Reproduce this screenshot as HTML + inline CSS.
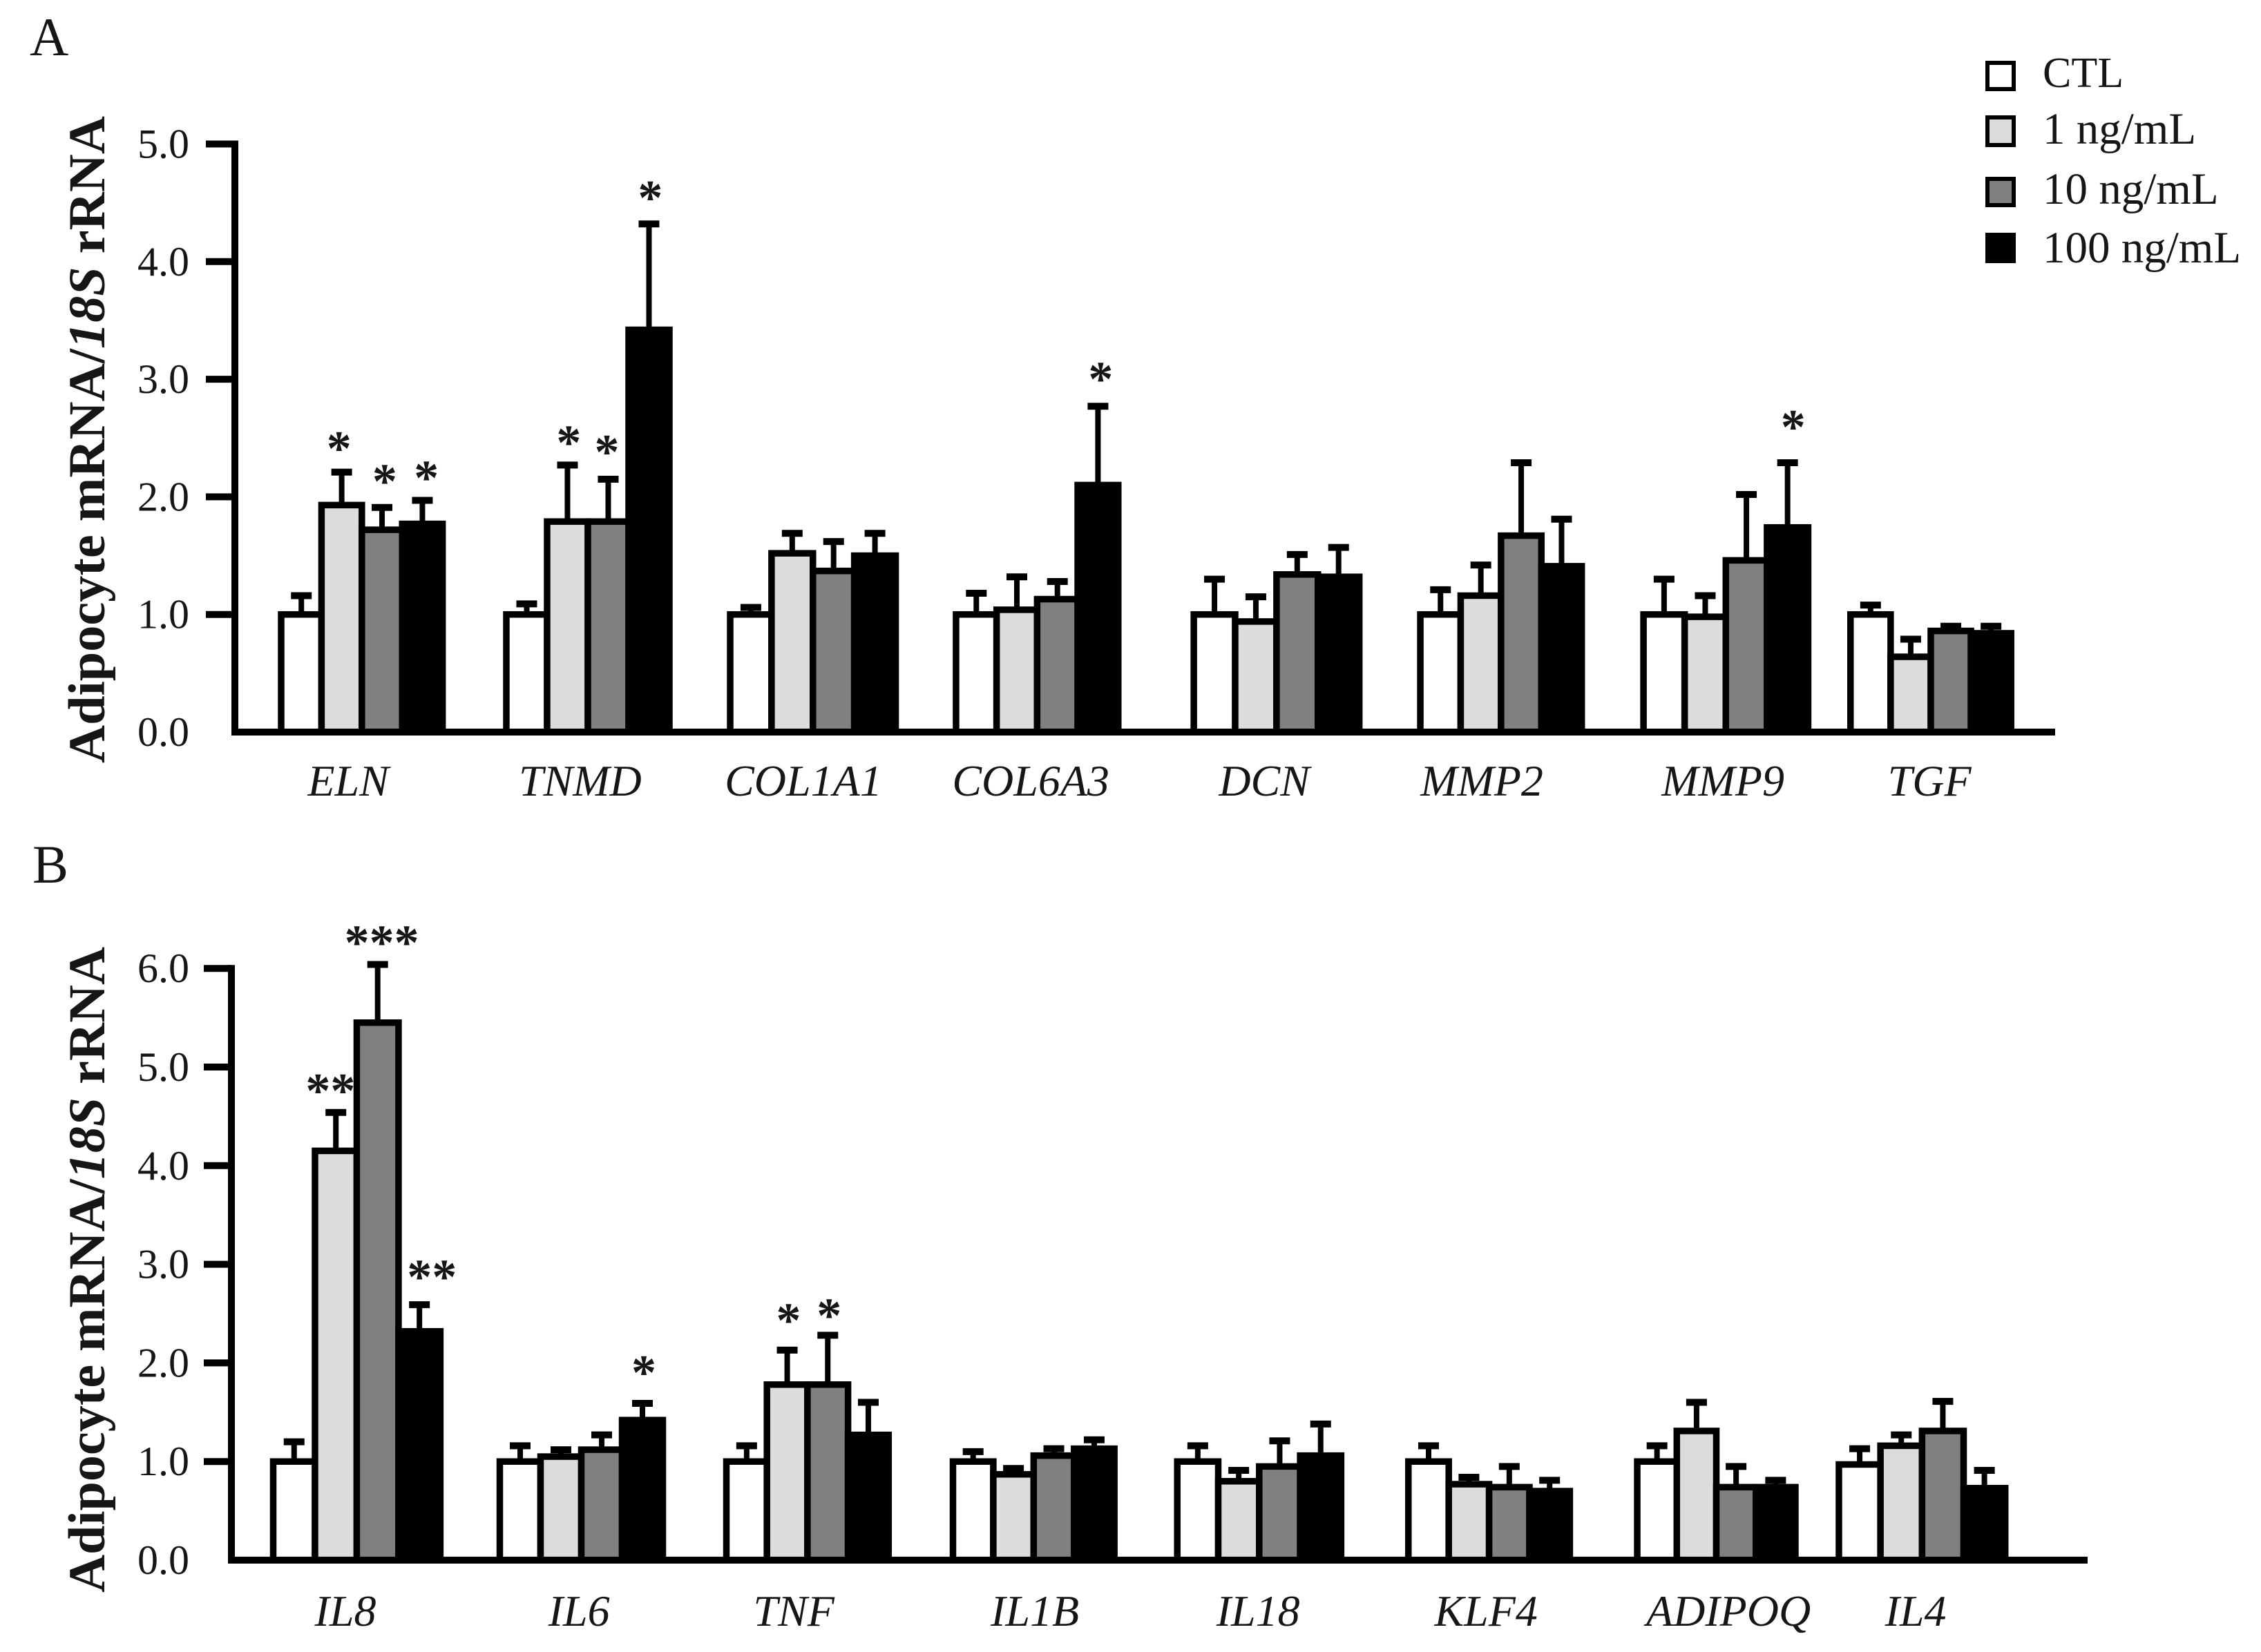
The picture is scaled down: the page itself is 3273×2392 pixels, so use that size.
<!DOCTYPE html>
<html lang="en">
<head>
<meta charset="utf-8">
<title>Adipocyte mRNA expression</title>
<style>
html,body{margin:0;padding:0;background:#fff;}
svg{display:block;}
text{font-family:"Liberation Serif",serif;fill:#161616;}
</style>
</head>
<body>
<svg id="figure" xmlns="http://www.w3.org/2000/svg" width="3273" height="2392" viewBox="0 0 3273 2392">
  <rect width="3273" height="2392" fill="#fff"/>
  <text x="43" y="80" font-size="78">A</text>
  <text x="47" y="1278" font-size="78">B</text>
  <text transform="translate(151 1105) rotate(-90)" font-size="75" font-weight="bold" textLength="937" lengthAdjust="spacingAndGlyphs">Adipocyte mRNA/<tspan font-style="italic">18S</tspan> rRNA</text>
  <text transform="translate(151 2306) rotate(-90)" font-size="75" font-weight="bold" textLength="935" lengthAdjust="spacingAndGlyphs">Adipocyte mRNA/<tspan font-style="italic">18S</tspan> rRNA</text>
  <g>
    <g>
      <rect x="2877" y="91" width="38" height="38" fill="#fff" stroke="#000" stroke-width="6"/>
      <text x="2957" y="126" font-size="62">CTL</text>
    </g>
    <g>
      <rect x="2877" y="170" width="38" height="40" fill="#dcdcdc" stroke="#000" stroke-width="6"/>
      <text x="2957" y="208" font-size="65">1 ng/mL</text>
    </g>
    <g>
      <rect x="2877" y="259" width="38" height="38" fill="#808080" stroke="#000" stroke-width="6"/>
      <text x="2957" y="295" font-size="65">10 ng/mL</text>
    </g>
    <g>
      <rect x="2877" y="340" width="38" height="38" fill="#000" stroke="#000" stroke-width="6"/>
      <text x="2957" y="380" font-size="65">100 ng/mL</text>
    </g>
  </g>
  <g id="panel-a"></g>
  <g id="panel-b"></g>
</svg>
<script>
// Panel A data
const genesA = ['ELN','TNMD','COL1A1','COL6A3','DCN','MMP2','MMP9','TGF'];
const groupPosA = [0,1.003,2.0,3.006,4.065,5.074,6.068,6.99];
const groupScaleA = [0.99,1.0,1.015,0.995,1.015,0.99,1.01,0.985];
const labelPosA = [-0.055,0.978,1.972,2.985,4.025,4.994,6.068,6.988];
const ticksA = [0,1,2,3,4,5];
const ctlA = [1.0,1.0,1.0,1.0,1.0,1.0,1.0,1.0];
const low1A = [1.93,1.79,1.52,1.04,0.94,1.16,0.98,0.64];
const mid10A = [1.72,1.79,1.37,1.13,1.34,1.67,1.46,0.86];
const high100A = [1.77,3.42,1.50,2.10,1.32,1.41,1.74,0.84];
const ctlErrA = [1.16,1.09,1.06,1.18,1.30,1.21,1.30,1.08];
const low1ErrA = [2.21,2.27,1.69,1.32,1.15,1.42,1.16,0.79];
const mid10ErrA = [1.91,2.15,1.62,1.28,1.51,2.29,2.02,0.90];
const high100ErrA = [1.97,4.32,1.69,2.77,1.57,1.81,2.29,0.90];
const starGroupA = [0,0,0,1,1,1,3,6];
const starSeriesA = [1,2,3,1,2,3,3,3];
const starLabelA = ['*','*','*','*','*','*','*','*'];
const starLevelA = [2.47,2.19,2.22,2.52,2.44,4.60,3.06,2.65];
const starShiftA = [-0.012,0.012,0.018,0.006,-0.006,0.006,0.012,0.025];

// Panel B data
const genesB = ['IL8','IL6','TNF','IL1B','IL18','KLF4','ADIPOQ','IL4'];
const groupPosB = [0,1,2,3,3.99,5.01,6.02,6.91];
const groupScaleB = [1.025,1.0,0.995,0.99,1.005,0.99,0.97,1.02];
const labelPosB = [-0.032,0.999,1.947,3.011,3.996,5.002,6.072,6.898];
const ticksB = [0,1,2,3,4,5,6];
const ctlB = [1.0,1.0,1.0,1.0,1.0,1.0,1.0,0.97];
const low1B = [4.15,1.05,1.78,0.87,0.80,0.77,1.31,1.16];
const mid10B = [5.45,1.12,1.78,1.06,0.95,0.74,0.74,1.31];
const high100B = [2.32,1.42,1.27,1.13,1.06,0.70,0.74,0.73];
const ctlErrB = [1.20,1.16,1.16,1.10,1.16,1.16,1.16,1.13];
const low1ErrB = [4.54,1.12,2.13,0.93,0.91,0.84,1.60,1.27];
const mid10ErrB = [6.04,1.27,2.28,1.13,1.21,0.95,0.95,1.61];
const high100ErrB = [2.59,1.59,1.60,1.22,1.38,0.81,0.81,0.91];
const starGroupB = [0,0,0,1,2,2];
const starSeriesB = [1,2,3,3,1,2];
const starLabelB = ['**','***','**','*','*','*'];
const starLevelB = [4.83,6.33,2.94,1.97,2.50,2.55];
const starShiftB = [-0.024,0.018,0.055,0.006,0.006,0.006];

const seriesKeys = ['ctl','1-ng-ml','10-ng-ml','100-ng-ml'];
const seriesFills = ['#ffffff','#dcdcdc','#808080','#000000'];
const NS = 'http://www.w3.org/2000/svg';

function mk(parent, tag) {
  const el = document.createElementNS(NS, tag);
  parent.appendChild(el);
  return el;
}
function setAttrs(el, attrs) {
  for (const k in attrs) el.setAttribute(k, attrs[k]);
}

function drawPanel(root, cfg) {
  const y = v => cfg.y0 - v * cfg.unit;
  const groupCenter = p => cfg.x0 + cfg.pitch * p;
  const strokeW = 9.5;
  const barPitch = 59;
  const barWidth = g => barPitch * cfg.groupScale[g];
  const barLeft = (g, s) => groupCenter(cfg.groupPos[g]) - 118 + s * barWidth(g);
  const barMid = (g, s) => barLeft(g, s) + barWidth(g) / 2;

  // Bars and error bars
  cfg.series.forEach((vals, s) => {
    vals.forEach((v, g) => {
      const cx = barMid(g, s);
      const errTop = y(cfg.errors[s][g]);

      const stem = mk(root, 'line');
      
      
      setAttrs(stem, {x1: cx, x2: cx, y1: y(v), y2: errTop, stroke: '#000', 'stroke-width': 8});

      const cap = mk(root, 'line');
      
      
      setAttrs(cap, {x1: cx - 15, x2: cx + 15, y1: errTop, y2: errTop, stroke: '#000', 'stroke-width': 10});
    });
  });
  cfg.series.forEach((vals, s) => {
    vals.forEach((v, g) => {
      const bar = mk(root, 'rect');
      
      
      setAttrs(bar, {x: barLeft(g, s), y: y(v), width: barWidth(g), height: cfg.y0 - y(v),
        fill: seriesFills[s], stroke: '#000', 'stroke-width': strokeW});
    });
  });

  // Axes
  const yAxis = mk(root, 'line');
  
  
  setAttrs(yAxis, {x1: cfg.axisX, x2: cfg.axisX, y1: y(cfg.ticks[cfg.ticks.length - 1]) - 5, y2: cfg.y0 + 5, stroke: '#000', 'stroke-width': 10});

  const xAxis = mk(root, 'line');
  
  
  setAttrs(xAxis, {x1: cfg.axisX - 5, x2: cfg.axisEnd, y1: cfg.y0, y2: cfg.y0, stroke: '#000', 'stroke-width': 10});

  cfg.ticks.forEach(t => {
    if (t > 0) {
      const tick = mk(root, 'line');
      
      
      setAttrs(tick, {x1: cfg.tickStart, x2: cfg.axisX, y1: y(t), y2: y(t), stroke: '#000', 'stroke-width': 10});
    }
    const lab = mk(root, 'text');
    
    
    setAttrs(lab, {x: 274, y: y(t) + 20, 'font-size': 60, 'text-anchor': 'end', fill: '#2a2a2a'});
    lab.textContent = t.toFixed(1);
  });

  // Category labels
  cfg.genes.forEach((name, g) => {
    const lab = mk(root, 'text');
    
    
    setAttrs(lab, {x: groupCenter(cfg.labelPos[g]) - 3, y: cfg.labelY, 'font-size': 64, 'font-style': 'italic', 'text-anchor': 'middle', fill: '#2a2a2a'});
    lab.textContent = name;
  });

  // Significance marks
  cfg.starGroup.forEach((g, i) => {
    const s = cfg.starSeries[i];
    const st = mk(root, 'text');
    
    
    setAttrs(st, {x: barMid(g, s) + cfg.pitch * cfg.starShift[i], y: y(cfg.starLevel[i]) + 34, 'font-size': 72, 'font-weight': 'bold', 'text-anchor': 'middle', fill: '#000'});
    st.textContent = cfg.starLabel[i];
  });
}

drawPanel(document.getElementById('panel-a'), {
  genes: genesA, groupPos: groupPosA, groupScale: groupScaleA, labelPos: labelPosA, ticks: ticksA,
  series: [ctlA, low1A, mid10A, high100A],
  errors: [ctlErrA, low1ErrA, mid10ErrA, high100ErrA],
  starGroup: starGroupA, starSeries: starSeriesA, starLabel: starLabelA,
  starLevel: starLevelA, starShift: starShiftA,
  y0: 1060, unit: 170.3, x0: 525, pitch: 325,
  axisX: 340, axisEnd: 2975, tickStart: 298, labelY: 1152
});
drawPanel(document.getElementById('panel-b'), {
  genes: genesB, groupPos: groupPosB, groupScale: groupScaleB, labelPos: labelPosB, ticks: ticksB,
  series: [ctlB, low1B, mid10B, high100B],
  errors: [ctlErrB, low1ErrB, mid10ErrB, high100ErrB],
  starGroup: starGroupB, starSeries: starSeriesB, starLabel: starLabelB,
  starLevel: starLevelB, starShift: starShiftB,
  y0: 2259, unit: 142.8, x0: 513.5, pitch: 328,
  axisX: 335, axisEnd: 3022, tickStart: 295, labelY: 2354
});
</script>
</body>
</html>
